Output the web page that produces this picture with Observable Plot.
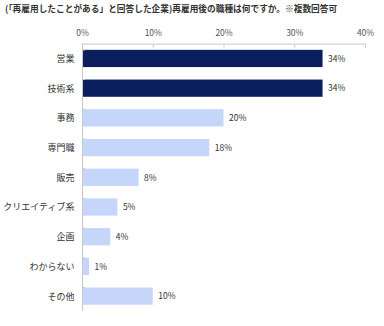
<!DOCTYPE html>
<html><head><meta charset="utf-8">
<script src="https://cdn.jsdelivr.net/npm/d3@7"></script>
<script src="https://cdn.jsdelivr.net/npm/@observablehq/plot@0.6"></script>
<style>
body{margin:0;background:#fff;}
#wrap{position:relative;width:384px;height:326px;font-family:"Noto Sans CJK JP",sans-serif;}
#title{position:absolute;left:5px;top:2px;font-size:8.7px;font-weight:bold;color:#333;white-space:nowrap;}
</style></head>
<body><div id="wrap"><div id="title">(「再雇用したことがある」と回答した企業)再雇用後の職種は何ですか。※複数回答可</div></div>
<script>
const categories = ["営業","技術系","事務","専門職","販売","クリエイティブ系","企画","わからない","その他"];
const values = [34,34,20,18,8,5,4,1,10];
const highlight = [true,true,false,false,false,false,false,false,false];
const xTicks = [0,10,20,30,40];

const data = categories.map((c,i)=>({cat:c, v:values[i], hi:highlight[i]}));
const step = (311-43.6)/categories.length;
const bounds = [{cat:categories[0], dy:-step/2}].concat(categories.map(c=>({cat:c, dy:step/2})));

const chart = Plot.plot({
  width:384, height:326,
  marginLeft:82, marginRight:19, marginTop:43.6, marginBottom:15,
  style:{fontFamily:"'Noto Sans CJK JP', sans-serif", background:"#fff"},
  x:{domain:[0,40], ticks:xTicks},
  y:{domain:categories, paddingInner:0.42, paddingOuter:0.21, round:false},
  marks:[
    Plot.frame({anchor:"top", stroke:"#c8c8c8"}),
    Plot.axisX({anchor:"top", ticks:xTicks, tickSize:-3, tickPadding:11, stroke:"#c8c8c8", fill:"#555", fontSize:8.5, tickFormat:d=>d+"%", label:null}),
    Plot.barX(data, {y:"cat", x:"v", fill:d=>d.hi?"#0b1f5e":"#c6d6fa"}),
    Plot.ruleX([0], {stroke:"#c8c8c8"}),
    Plot.ruleY(bounds, {y:"cat", dy:"dy", x1:0, x2:0.45, stroke:"#c8c8c8"}),
    Plot.axisY({tickSize:0, tickPadding:8, fill:"#333", fontSize:9, label:null}),
    Plot.text(data, {y:"cat", x:"v", text:d=>d.v+"%", textAnchor:"start", dx:5, fill:"#333", fontSize:8.5})
  ]
});
document.getElementById("wrap").appendChild(chart);
</script></body></html>
